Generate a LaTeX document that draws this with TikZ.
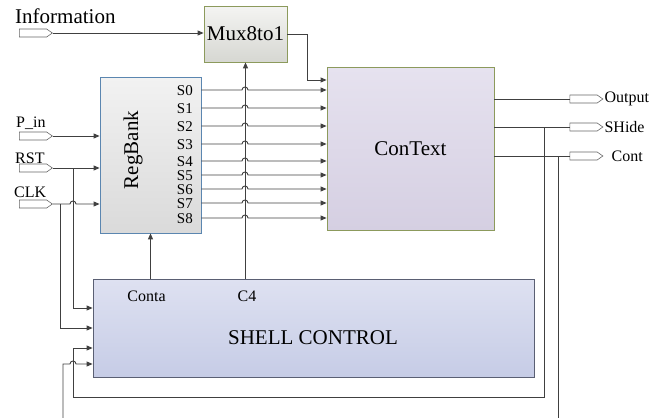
\documentclass[tikz,border=0pt]{standalone}
\usepackage{fontspec}
\setmainfont{Liberation Serif}
\usetikzlibrary{positioning,arrows.meta}
\usetikzlibrary{shapes.symbols}

\definecolor{linea}{HTML}{404040}
\definecolor{oliva}{HTML}{8C9A5C}
\definecolor{bluastro}{HTML}{5B86B0}
\definecolor{ardesia}{HTML}{5A5F73}
\definecolor{muxalto}{HTML}{F4F4F2}
\definecolor{muxbasso}{HTML}{D6D7D2}
\definecolor{ctxalto}{HTML}{E6E2EF}
\definecolor{ctxbasso}{HTML}{D5CFE2}
\definecolor{regalto}{HTML}{F2F2F2}
\definecolor{regbasso}{HTML}{DADADA}
\definecolor{shellalto}{HTML}{DEE1F1}
\definecolor{shellbasso}{HTML}{C6CCE6}

\tikzset{
  sig/.style={draw=linea, line width=0.9pt, -{Triangle[length=6pt,width=5pt]}},
  wire/.style={draw=linea, line width=0.9pt},
  port/.style={signal, signal to=east, signal pointer angle=70, draw=gray!80!black,
    fill=white, line width=0.6pt, minimum width=33pt, minimum height=8pt, inner sep=0pt},
  blocco/.style={line width=0.8pt, inner sep=0pt},
  grande/.style={font=\fontsize{21}{25}\selectfont},
  piccolo/.style={font=\fontsize{16}{19}\selectfont},
  uscita/.style={font=\fontsize{15}{17}\selectfont, anchor=east, inner sep=0pt,
    text height=10pt, text depth=0pt},
}

\begin{document}
\begin{tikzpicture}[x=1pt, y=-1pt]

    \useasboundingbox (0,0) rectangle (670,418);

    % Blocchi principali
    \node[blocco, draw=oliva, top color=muxalto, bottom color=muxbasso,
        minimum width=83pt, minimum height=56pt, grande] (mux) at (245.5,34) {Mux8to1};
    \node[blocco, draw=oliva, top color=ctxalto, bottom color=ctxbasso,
        minimum width=167pt, minimum height=163pt, grande] (ctx) at (410.5,148.5) {ConText};
    \node[blocco, draw=bluastro, top color=regalto, bottom color=regbasso,
        minimum width=101pt, minimum height=156pt] (reg) at (150.5,155) {};
    \node[grande, rotate=90] (regtxt) at (133,150) {RegBank};
    \node[blocco, draw=ardesia, top color=shellalto, bottom color=shellbasso,
        minimum width=441pt, minimum height=98pt] (shell) at (313.5,328) {};
    \node[grande] (shelltxt) at (313,338) {SHELL CONTROL};
    \node[piccolo] (conta) at (146.5,296) {Conta};
    \node[piccolo] (c4) at (247,296) {C4};

    % Porte di ingresso e di uscita
    \node[port] (pinfo) at (33,33) {};
    \node[port] (ppin) at (33,136) {};
    \node[port] (prst) at (33,168) {};
    \node[port] (pclk) at (33,204) {};
    \node[port] (pout) at (583.5,99) {};
    \node[port] (pshide) at (583.5,127) {};
    \node[port] (pcont) at (583.5,156) {};

    % Etichette delle porte
    \node[grande, anchor=base west, inner sep=0pt] (tinfo) at (15,23) {Information};
    \node[piccolo, anchor=base west, inner sep=0pt] (tpin) at (16,127) {P\_in};
    \node[piccolo, anchor=base west, inner sep=0pt] (trst) at (15,163) {RST};
    \node[piccolo, anchor=base west, inner sep=0pt] (tclk) at (14,197) {CLK};
    \node[piccolo, anchor=west, inner sep=1pt] (tout) at (pout.east) {Output};
    \node[piccolo, anchor=west, inner sep=1pt] (tshide) at (pshide.east) {SHide};
    \node[piccolo, anchor=west, inner sep=1pt, xshift=7pt] (tcont) at (pcont.east) {Cont};

    % Information -> Mux8to1 -> ConText
    \draw[sig] (pinfo.east) -- (pinfo.east -| mux.west);
    \coordinate (mx) at (307,80);
    \draw[sig] (mux.east) -| (mx) -- (mx -| ctx.west);

    % Uscite S0..S8 del RegBank, con salto sulla linea C4
    \foreach \n/\y in {0/90,1/108,2/126,3/144,4/161,5/175,6/189,7/203,8/218}{
        \node[uscita] (s\n) at (193,\y) {S\n};
        \draw[sig] (reg.east |- s\n) -- (242,\y)
            .. controls +(0,-4) and +(0,-4) .. (248,\y) -- (ctx.west |- s\n);
    }

    % SHELL CONTROL verso Mux8to1 e RegBank
    \draw[sig] (shell.north -| mux.south) -- (mux.south);
    \draw[sig] (shell.north -| reg.south) -- (reg.south);

    % Ingressi P_in, RST, CLK
    \draw[sig] (ppin.east) -- (ppin.east -| reg.west);
    \draw[sig] (prst.east) -- (prst.east -| reg.west);
    \draw[sig] (pclk.east) -- (70,204)
        .. controls +(0,-4) and +(0,-4) .. (76,204) -- (pclk.east -| reg.west);
    \coordinate (jrst) at (73,168);
    \coordinate (jclk) at (60,204);
    \draw[sig] (jrst) |- (shell.west |- 0,308);
    \draw[sig] (jclk) |- (shell.west |- 0,328);

    % Uscite del ConText
    \draw[wire] (ctx.east |- pout) -- (pout.west);
    \draw[wire] (ctx.east |- pshide) -- (pshide.west);
    \draw[wire] (ctx.east |- pcont) -- (pcont.west);

    % Retroazioni verso SHELL CONTROL
    \coordinate (jshide) at (544,127);
    \coordinate (jcont) at (558,156);
    \coordinate (fondodx) at (558,418);
    \coordinate (fondosx) at (63,418);
    \draw[sig] (jshide) |- (73,397) |- (shell.west |- 0,348);
    \draw[wire] (jcont) -- (fondodx);
    \draw[sig] (fondosx) |- (70,364)
        .. controls +(0,-4) and +(0,-4) .. (76,364) -- (shell.west |- 0,364);

\end{tikzpicture}
\end{document}
